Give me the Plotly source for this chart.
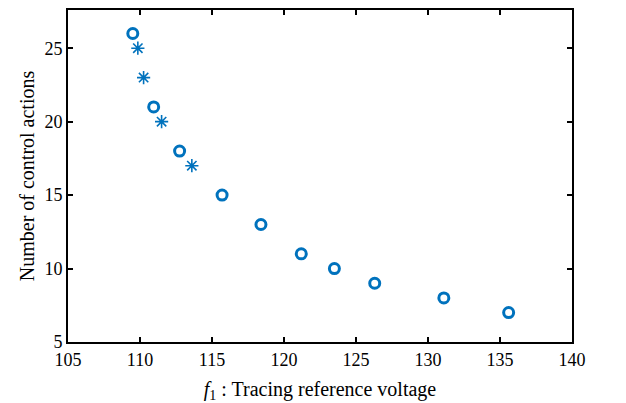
import plotly.graph_objects as go

# Circle markers
circle_x = [109.5, 110.95, 112.75, 115.7, 118.4, 121.2, 123.5, 126.3, 131.1, 135.6]
circle_y = [26, 21, 18, 15, 13, 11, 10, 9, 8, 7]
# Star markers
star_x = [109.85, 110.25, 111.5, 113.6]
star_y = [25, 23, 20, 17]

x_ticks = [105, 110, 115, 120, 125, 130, 135, 140]
y_ticks = [5, 10, 15, 20, 25]

blue = "rgb(0,114,189)"
font_family = "Liberation Serif"

fig = go.Figure()
fig.add_trace(go.Scatter(
    x=circle_x, y=circle_y, mode="markers",
    marker=dict(symbol="circle-open", size=10, color=blue, line=dict(width=3, color=blue)),
    showlegend=False,
))
fig.add_trace(go.Scatter(
    x=star_x, y=star_y, mode="markers",
    marker=dict(symbol="asterisk-open", size=11, color=blue, line=dict(width=1.6, color=blue)),
    showlegend=False,
))

axis_common = dict(
    showgrid=False, zeroline=False, showline=True, linecolor="black", linewidth=2,
    mirror="ticks", ticks="inside", ticklen=5, tickwidth=2, tickcolor="black",
    tickfont=dict(family=font_family, size=18, color="black"),
    automargin=False,
)

fig.update_xaxes(range=[105, 140], tickvals=x_ticks, ticktext=[str(v) for v in x_ticks],
                 title=dict(text="<i>f</i><sub>1</sub> : Tracing reference voltage",
                            font=dict(family=font_family, size=20, color="black"), standoff=16),
                 **axis_common)
fig.update_yaxes(range=[5, 27.6], tickvals=y_ticks, ticktext=[str(v) for v in y_ticks],
                 title=dict(text="Number of control actions",
                            font=dict(family=font_family, size=20, color="black"), standoff=4),
                 **axis_common)

fig.update_layout(
    width=626, height=403,
    margin=dict(l=68, r=54, t=10, b=61),
    plot_bgcolor="white", paper_bgcolor="white",
)

fig.write_html("out.html")
